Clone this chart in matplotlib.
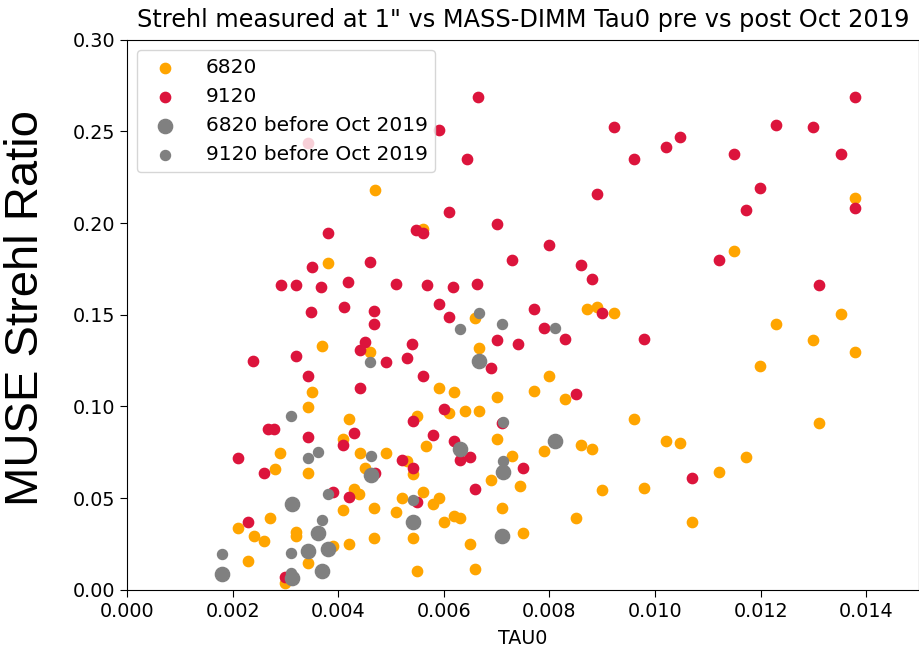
import matplotlib
matplotlib.use('Agg')
import matplotlib.pyplot as plt

# 6820 (after Oct 2019)
tau_6820 = [0.0038, 0.0046, 0.0047, 0.0056, 0.0037, 0.0035, 0.00343, 0.0059, 0.0062, 0.0066,
            0.00667, 0.0070, 0.0064, 0.00667, 0.0061, 0.0055, 0.0042, 0.01379, 0.01149, 0.00872,
            0.0089, 0.00922, 0.01352, 0.01229, 0.0130, 0.01379, 0.01198, 0.0080, 0.0077, 0.0083,
            0.0096, 0.0131, 0.0079, 0.0086, 0.0088, 0.0102, 0.01048, 0.01172, 0.01122, 0.00745,
            0.0090, 0.0098, 0.0085, 0.0107, 0.0075, 0.0041, 0.0029, 0.0028, 0.00343, 0.00442,
            0.0045, 0.0049, 0.0053, 0.00542, 0.00567, 0.0070, 0.0073, 0.0069, 0.0043, 0.0044,
            0.00468, 0.0041, 0.0052, 0.0051, 0.0056, 0.0058, 0.0059, 0.0027, 0.0021, 0.0024,
            0.0026, 0.0032, 0.0032, 0.0039, 0.0042, 0.00468, 0.00542, 0.0060, 0.0062, 0.0063,
            0.0065, 0.0071, 0.0023, 0.00343, 0.0030, 0.0055, 0.0066]
strehl_6820 = [0.178, 0.1297, 0.218, 0.197, 0.133, 0.108, 0.0997, 0.110, 0.108, 0.148,
               0.132, 0.105, 0.0975, 0.0975, 0.0965, 0.095, 0.093, 0.2136, 0.185, 0.153,
               0.154, 0.151, 0.1505, 0.145, 0.1362, 0.1297, 0.122, 0.1166, 0.1085, 0.104,
               0.093, 0.091, 0.0757, 0.079, 0.0768, 0.081, 0.080, 0.0725, 0.0645, 0.0567,
               0.0545, 0.0556, 0.039, 0.037, 0.031, 0.0823, 0.0746, 0.066, 0.0637, 0.0746,
               0.0665, 0.0746, 0.070, 0.063, 0.0785, 0.082, 0.073, 0.060, 0.055, 0.0523,
               0.0447, 0.0436, 0.050, 0.0425, 0.0534, 0.047, 0.050, 0.039, 0.0338, 0.0294,
               0.0267, 0.0316, 0.0294, 0.024, 0.025, 0.028, 0.028, 0.037, 0.040, 0.039,
               0.025, 0.0447, 0.0158, 0.0147, 0.0038, 0.0104, 0.0114]

# 9120 (after Oct 2019)
tau_9120 = [0.00665, 0.0059, 0.00643, 0.0061, 0.0070, 0.0038, 0.00548, 0.00561, 0.0035, 0.00292,
            0.00321, 0.00368, 0.00419, 0.0046, 0.00349, 0.00411, 0.00468, 0.00468, 0.0051, 0.00569,
            0.00618, 0.00662, 0.00591, 0.0061, 0.0073, 0.00239, 0.0032, 0.00343, 0.00442, 0.0045,
            0.00442, 0.00491, 0.0053, 0.0054, 0.0056, 0.0070, 0.0069, 0.0074, 0.0060, 0.00343,
            0.00922, 0.0096, 0.0102, 0.01048, 0.0089, 0.01149, 0.01229, 0.0130, 0.01352, 0.01379,
            0.01198, 0.01172, 0.01379, 0.0080, 0.0086, 0.0088, 0.0077, 0.0079, 0.0083, 0.00899,
            0.0098, 0.01122, 0.0131, 0.0085, 0.0107, 0.0075, 0.00267, 0.00279, 0.00343, 0.0043,
            0.0041, 0.0021, 0.0026, 0.0047, 0.0052, 0.00542, 0.0058, 0.00542, 0.0062, 0.0063,
            0.0065, 0.0071, 0.0066, 0.0039, 0.0042, 0.0055, 0.0023, 0.0030]
strehl_9120 = [0.2687, 0.251, 0.235, 0.206, 0.1995, 0.1945, 0.196, 0.1945, 0.176, 0.166,
               0.166, 0.165, 0.168, 0.179, 0.1515, 0.154, 0.152, 0.145, 0.167, 0.166,
               0.165, 0.167, 0.156, 0.149, 0.180, 0.125, 0.1275, 0.1166, 0.110, 0.135,
               0.131, 0.124, 0.1264, 0.134, 0.1166, 0.136, 0.121, 0.134, 0.0986, 0.2436,
               0.2523, 0.235, 0.2414, 0.247, 0.216, 0.2376, 0.2534, 0.2523, 0.2376, 0.2687,
               0.219, 0.207, 0.208, 0.188, 0.177, 0.1695, 0.153, 0.143, 0.137, 0.151,
               0.137, 0.180, 0.166, 0.1068, 0.061, 0.0665, 0.0877, 0.0877, 0.0834, 0.0855,
               0.079, 0.072, 0.0637, 0.0637, 0.0708, 0.0665, 0.0845, 0.092, 0.081, 0.0708,
               0.0725, 0.091, 0.055, 0.0534, 0.0507, 0.048, 0.037, 0.0071]

# before Oct 2019
tau_6820_old = [0.00667, 0.0081, 0.00462, 0.0063, 0.00713, 0.00313, 0.00542, 0.0071, 0.00362, 0.00343,
                0.0038, 0.0018, 0.0037, 0.00313]
strehl_6820_old = [0.125, 0.081, 0.0627, 0.0768, 0.0643, 0.047, 0.037, 0.0294, 0.031, 0.0213,
                   0.0223, 0.0087, 0.0104, 0.0065]

tau_9120_old = [0.00667, 0.0063, 0.0071, 0.0046, 0.00713, 0.0031, 0.0081, 0.00362, 0.00343, 0.00462,
                0.00713, 0.0038, 0.00542, 0.0037, 0.0018, 0.0031, 0.0031]
strehl_9120_old = [0.151, 0.142, 0.145, 0.124, 0.0917, 0.095, 0.143, 0.0752, 0.072, 0.073,
                   0.0703, 0.0523, 0.049, 0.038, 0.0196, 0.020, 0.009]

fig = plt.figure(figsize=(9.2, 6.51), dpi=100)
ax = fig.add_axes([0.138, 0.094, 0.861, 0.845])

ax.scatter(tau_6820, strehl_6820, c='orange', s=55, label='6820')
ax.scatter(tau_9120, strehl_9120, c='crimson', s=55, label='9120')
ax.scatter(tau_6820_old, strehl_6820_old, c='grey', s=105, label='6820 before Oct 2019')
ax.scatter(tau_9120_old, strehl_9120_old, c='grey', s=52, label='9120 before Oct 2019')

ax.set_xlim(0, 0.015)
ax.set_ylim(0, 0.30)
ax.set_xticks([0.000, 0.002, 0.004, 0.006, 0.008, 0.010, 0.012, 0.014])
ax.set_yticks([0.00, 0.05, 0.10, 0.15, 0.20, 0.25, 0.30])
ax.tick_params(labelsize=13.8, length=5)
ax.set_xlabel('TAU0', fontsize=13.8, labelpad=6)
ax.set_title('Strehl measured at 1" vs MASS-DIMM Tau0 pre vs post Oct 2019', fontsize=17.3, pad=9)
ax.legend(loc='upper left', fontsize=14.5, handletextpad=1.0)

fig.text(0.028, 0.527, 'MUSE Strehl Ratio', rotation=90, ha='center', va='center',
         fontsize=34, family='Liberation Sans')

fig.savefig('out.png', dpi=100)
